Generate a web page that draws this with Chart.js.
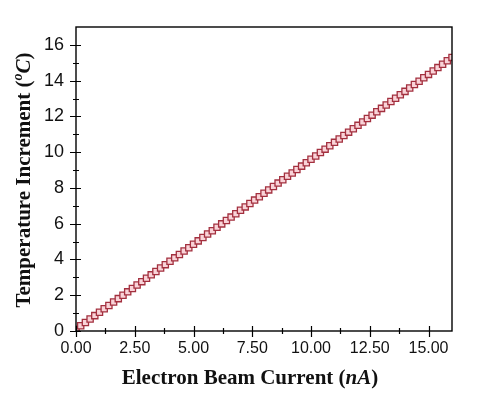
<!DOCTYPE html>
<html>
<head>
<meta charset="utf-8">
<script src="https://cdn.jsdelivr.net/npm/chart.js@4.4.1/dist/chart.umd.min.js"></script>
<style>
  html, body { margin: 0; padding: 0; background: #fff; }
  #wrap { width: 481px; height: 398px; position: relative; }
</style>
</head>
<body>
<div id="wrap"><canvas id="chartCanvas"></canvas></div>
<script>
// beam current (nA) and temperature increment (deg C)
const current = [
  0.0, 0.2, 0.4, 0.6, 0.8, 1.0, 1.2, 1.4, 1.6, 1.8,
  2.0, 2.2, 2.4, 2.6, 2.8, 3.0, 3.2, 3.4, 3.6, 3.8,
  4.0, 4.2, 4.4, 4.6, 4.8, 5.0, 5.2, 5.4, 5.6, 5.8,
  6.0, 6.2, 6.4, 6.6, 6.8, 7.0, 7.2, 7.4, 7.6, 7.8,
  8.0, 8.2, 8.4, 8.6, 8.8, 9.0, 9.2, 9.4, 9.6, 9.8,
  10.0, 10.2, 10.4, 10.6, 10.8, 11.0, 11.2, 11.4, 11.6, 11.8,
  12.0, 12.2, 12.4, 12.6, 12.8, 13.0, 13.2, 13.4, 13.6, 13.8,
  14.0, 14.2, 14.4, 14.6, 14.8, 15.0, 15.2, 15.4, 15.6, 15.8,
  16.0
];
const tempIncrement = [
  0.10, 0.29, 0.48, 0.67, 0.86, 1.05, 1.24, 1.43, 1.62, 1.81,
  2.00, 2.19, 2.38, 2.57, 2.76, 2.95, 3.14, 3.33, 3.52, 3.71,
  3.90, 4.09, 4.28, 4.47, 4.66, 4.85, 5.04, 5.23, 5.42, 5.61,
  5.80, 5.99, 6.18, 6.37, 6.56, 6.75, 6.94, 7.13, 7.32, 7.51,
  7.70, 7.89, 8.08, 8.27, 8.46, 8.65, 8.84, 9.03, 9.22, 9.41,
  9.60, 9.79, 9.98, 10.17, 10.36, 10.55, 10.74, 10.93, 11.12, 11.31,
  11.50, 11.69, 11.88, 12.07, 12.26, 12.45, 12.64, 12.83, 13.02, 13.21,
  13.40, 13.59, 13.78, 13.97, 14.16, 14.35, 14.54, 14.73, 14.92, 15.11,
  15.30
];

// tick positions
const xMajorTicks = [0, 2.5, 5, 7.5, 10, 12.5, 15];
const xMinorTicks = [1.25, 3.75, 6.25, 8.75, 11.25, 13.75];
const yMajorTicks = [0, 2, 4, 6, 8, 10, 12, 14, 16];
const yMinorTicks = [1, 3, 5, 7, 9, 11, 13, 15];

const points = current.map((x, i) => ({ x: x, y: tempIncrement[i] }));

// frame, tick marks and the mixed-style axis titles
const decorations = {
  id: "decorations",
  afterDraw(chart) {
    const ctx = chart.ctx;
    const a = chart.chartArea;
    const xs = chart.scales.x;
    const ys = chart.scales.y;
    ctx.save();
    ctx.strokeStyle = "#000";
    ctx.lineWidth = 1.4;
    ctx.strokeRect(a.left, a.top, a.right - a.left, a.bottom - a.top);

    ctx.lineWidth = 1.2;
    ctx.beginPath();
    xMajorTicks.forEach((v) => {
      const px = Math.round(xs.getPixelForValue(v)) + 0.5;
      ctx.moveTo(px, a.bottom - 5);
      ctx.lineTo(px, a.bottom + 6);
    });
    xMinorTicks.forEach((v) => {
      const px = Math.round(xs.getPixelForValue(v)) + 0.5;
      ctx.moveTo(px, a.bottom - 3);
      ctx.lineTo(px, a.bottom + 3);
    });
    yMajorTicks.forEach((v) => {
      const py = Math.round(ys.getPixelForValue(v)) + 0.5;
      ctx.moveTo(a.left - 6, py);
      ctx.lineTo(a.left + 5, py);
    });
    yMinorTicks.forEach((v) => {
      const py = Math.round(ys.getPixelForValue(v)) + 0.5;
      ctx.moveTo(a.left - 3, py);
      ctx.lineTo(a.left + 3, py);
    });
    ctx.stroke();

    ctx.fillStyle = "#111";
    ctx.textBaseline = "alphabetic";
    const bold = "bold 21px 'Liberation Serif', 'Times New Roman', serif";
    const boldIt = "italic bold 21px 'Liberation Serif', 'Times New Roman', serif";
    const boldItSup = "italic bold 14px 'Liberation Serif', 'Times New Roman', serif";

    function drawParts(parts, cx, baseY) {
      let total = 0;
      parts.forEach((p) => {
        ctx.font = p.font;
        p.w = ctx.measureText(p.text).width;
        total += p.w;
      });
      let x = cx - total / 2;
      parts.forEach((p) => {
        ctx.font = p.font;
        ctx.fillText(p.text, x, baseY + (p.dy || 0));
        x += p.w;
      });
    }

    // x title
    ctx.textAlign = "left";
    drawParts([
      { text: "Electron Beam Current (", font: bold },
      { text: "nA", font: boldIt },
      { text: ")", font: bold },
    ], 250, 384);

    // y title, rotated
    ctx.save();
    ctx.translate(30, 180);
    ctx.rotate(-Math.PI / 2);
    drawParts([
      { text: "Temperature Increment (", font: bold },
      { text: "o", font: boldItSup, dy: -8 },
      { text: "C", font: boldIt },
      { text: ")", font: bold },
    ], 0, 0);
    ctx.restore();

    ctx.restore();
  },
};

const ctx = document.getElementById("chartCanvas").getContext("2d");
window.myChart = new Chart(ctx, {
  type: "scatter",
  data: {
    datasets: [
      {
        label: "Temperature Increment",
        data: points,
        pointStyle: "rect",
        pointRadius: 4.4,
        pointBorderWidth: 1.3,
        pointBackgroundColor: "#f9d3d8",
        pointBorderColor: "#a3303f",
        showLine: false,
      },
    ],
  },
  options: {
    responsive: true,
    maintainAspectRatio: false,
    animation: false,
    layout: { padding: { left: 0, right: 29, top: 27, bottom: 0 } },
    plugins: {
      legend: { display: false },
      tooltip: { enabled: false },
    },
    scales: {
      x: {
        type: "linear",
        min: 0,
        max: 16,
        grid: { display: false, drawTicks: false },
        border: { display: false },
        ticks: {
          stepSize: 2.5,
          includeBounds: false,
          autoSkip: false,
          maxRotation: 0,
          padding: 8,
          color: "#111",
          font: { family: "'Liberation Sans', Arial, sans-serif", size: 16 },
          callback: (v) => Number(v).toFixed(2),
        },
        afterFit: (scale) => { scale.height = 67; },
      },
      y: {
        type: "linear",
        min: 0,
        max: 17,
        grid: { display: false, drawTicks: false },
        border: { display: false },
        ticks: {
          stepSize: 2,
          includeBounds: false,
          autoSkip: false,
          padding: 12,
          color: "#111",
          font: { family: "'Liberation Sans', Arial, sans-serif", size: 18 },
        },
        afterFit: (scale) => { scale.width = 76; },
      },
    },
  },
  plugins: [decorations],
});
</script>
</body>
</html>
